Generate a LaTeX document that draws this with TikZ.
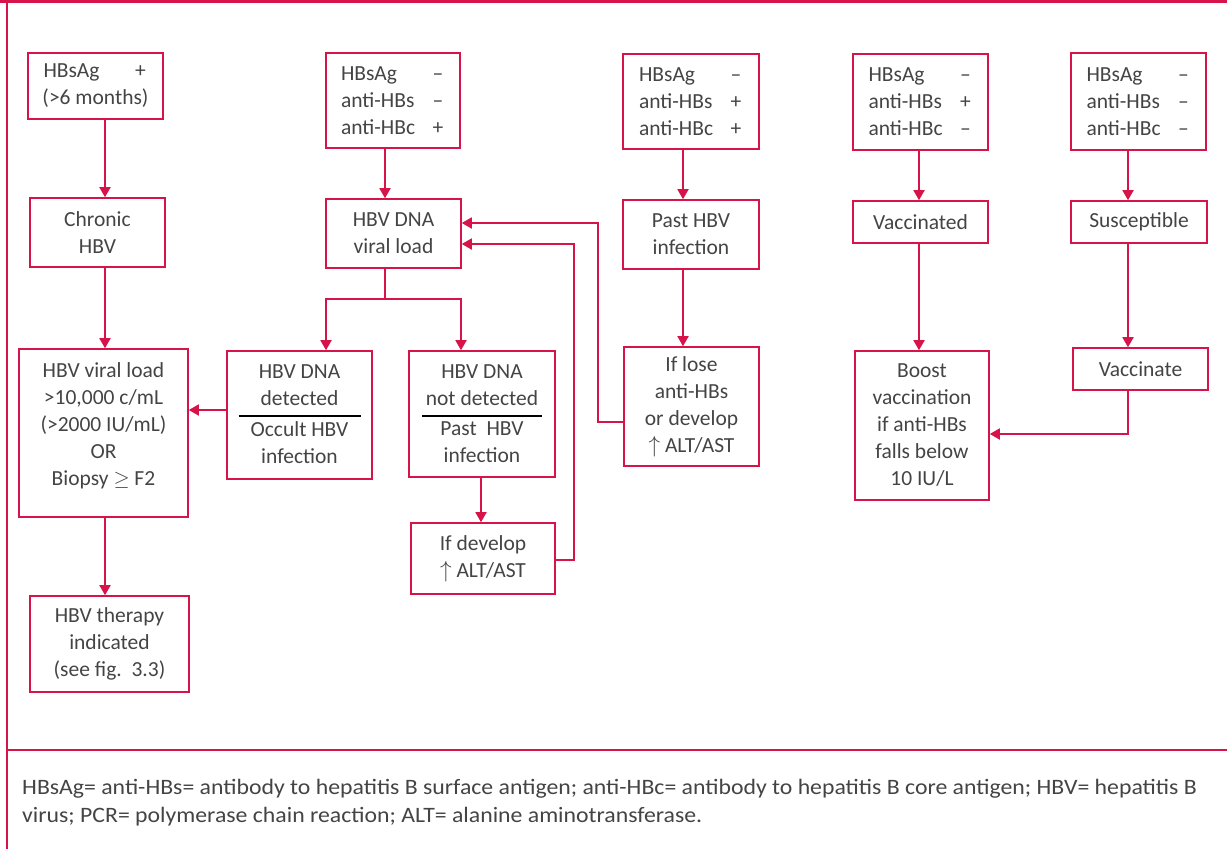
\documentclass[tikz,border=0pt]{standalone}
\usepackage{fontspec}
\setmainfont{Carlito}
\newfontfamily\footf{Carlito}[FakeStretch=1.08]
\usetikzlibrary{arrows.meta}
\definecolor{hred}{RGB}{214,20,74}
\definecolor{txtc}{RGB}{68,68,68}
\newcommand{\fsz}{\fontsize{21.5}{27}\selectfont}
\newcommand{\sg}[2]{\makebox[90pt][l]{#1}\makebox[14pt]{#2}}
\newcommand{\upar}{\scalebox{1.12}{$\uparrow$}}
\begin{document}
\begin{tikzpicture}[x=1pt,y=-1pt,
  box/.style={draw=hred,line width=1.6pt,inner sep=0pt,text=txtc,font=\fsz,align=center},
  txt/.style={inner sep=0pt,text=txtc,font=\fsz,align=center},
  conn/.style={draw=hred,line width=1.8pt},
  arr/.style={conn,-{Triangle[length=10pt,width=11pt]}}]
\useasboundingbox (0,0) rectangle (1227,849);
% frame
\draw[hred,line width=3pt] (0,1.5) -- (1227,1.5);
\draw[hred,line width=1.5pt] (7,0) -- (7,849);
\draw[hred,line width=2pt] (7,750) -- (1227,750);
% column A
\node[box,minimum width=135pt,minimum height=66pt] (A1) at (95.5,86) {\sg{HBsAg}{+}\\(>6 months)};
\node[box,minimum width=135pt,minimum height=69pt] (A2) at (97.5,232.5) {Chronic\\HBV};
\node[box,minimum width=169pt,minimum height=168pt] (A3) at (103.5,433) {};
\node[txt] (A3t) at (103.5,425.5) {HBV viral load\\>10,000 c/mL\\(>2000 IU/mL)\\OR\\Biopsy $\geq$ F2};
\node[box,minimum width=159pt,minimum height=96pt] (A4) at (109.5,644) {HBV therapy\\indicated\\(see fig.~~3.3)};
% column B
\node[box,minimum width=134pt,minimum height=95pt] (B1) at (393,100.5) {\sg{HBsAg}{–}\\\sg{anti-HBs}{–}\\\sg{anti-HBc}{+}};
\node[box,minimum width=135pt,minimum height=69pt] (B2) at (393.5,233.5) {HBV DNA\\viral load};
\node[box,minimum width=145pt,minimum height=128pt] (B3) at (299.5,415) {};
\node[txt] (B3a) at (299.5,385.5) {HBV DNA\\detected};
\node[txt] (B3b) at (299.5,442.5) {Occult HBV\\infection};
\draw[black,line width=2pt] (238.5,415.5) -- (360.5,415.5);
\node[box,minimum width=146pt,minimum height=126pt] (B4) at (482,414) {};
\node[txt] (B4a) at (482,385.5) {HBV DNA\\not detected};
\node[txt] (B4b) at (482,442.5) {Past~~HBV\\infection};
\draw[black,line width=2pt] (422,415.5) -- (542,415.5);
\node[box,minimum width=144pt,minimum height=71pt] (B5) at (483,558.5) {If develop\\\upar{} ALT/AST};
% column C
\node[box,minimum width=136pt,minimum height=95pt] (C1) at (691,101.5) {\sg{HBsAg}{–}\\\sg{anti-HBs}{+}\\\sg{anti-HBc}{+}};
\node[box,minimum width=136pt,minimum height=69pt] (C2) at (691,234.5) {Past HBV\\infection};
\node[box,minimum width=135pt,minimum height=119pt] (C3) at (691.5,406.5) {If lose\\anti-HBs\\or develop\\\upar{} ALT/AST};
% column D
\node[box,minimum width=135pt,minimum height=96pt] (D1) at (920.5,102) {\sg{HBsAg}{–}\\\sg{anti-HBs}{+}\\\sg{anti-HBc}{–}};
\node[box,minimum width=135pt,minimum height=42pt] (D2) at (920.5,222) {Vaccinated};
\node[box,minimum width=134pt,minimum height=149pt] (D3) at (922,425.5) {Boost\\vaccination\\if anti-HBs\\falls below\\10 IU/L};
% column E
\node[box,minimum width=135pt,minimum height=97pt] (E1) at (1138.5,101.5) {\sg{HBsAg}{–}\\\sg{anti-HBs}{–}\\\sg{anti-HBc}{–}};
\node[box,minimum width=136pt,minimum height=42pt] (E2) at (1139,222) {Susceptible};
\node[box,minimum width=135pt,minimum height=42pt] (E3) at (1140.5,369) {Vaccinate};
% helper coordinates
\coordinate (cA) at (105,0);
\coordinate (cB) at (385,0);
\coordinate (cC) at (683,0);
\coordinate (cD) at (919,0);
\coordinate (cE) at (1128,0);
\coordinate (Bj) at (385,299);
\coordinate (Bl) at (326,299);
\coordinate (Br) at (461,299);
\coordinate (r1) at (574,0);
\coordinate (r2) at (598,0);
\coordinate (y1) at (0,244);
\coordinate (y2) at (0,223);
\coordinate (y3) at (0,422);
\coordinate (y4) at (0,434);
\coordinate (y5) at (0,410);
\coordinate (y6) at (0,560);
\coordinate (b45) at (481,0);
% connectors
\draw[arr] (A1.south -| cA) -- (A2.north -| cA);
\draw[arr] (A2.south -| cA) -- (A3.north -| cA);
\draw[arr] (A3.south -| cA) -- (A4.north -| cA);
\draw[arr] (B3.west |- y5) -- (A3.east |- y5);
\draw[arr] (B1.south -| cB) -- (B2.north -| cB);
\draw[conn] (B2.south -| cB) -- (Bj);
\draw[arr] (Bj) -- (Bl) -- (B3.north -| Bl);
\draw[arr] (Bj) -- (Br) -- (B4.north -| Br);
\draw[arr] (B4.south -| b45) -- (B5.north -| b45);
\draw[arr] (B5.east |- y6) -| (r1 |- y1) -- (B2.east |- y1);
\draw[arr] (C3.west |- y3) -| (r2 |- y2) -- (B2.east |- y2);
\draw[arr] (C1.south -| cC) -- (C2.north -| cC);
\draw[arr] (C2.south -| cC) -- (C3.north -| cC);
\draw[arr] (D1.south -| cD) -- (D2.north -| cD);
\draw[arr] (D2.south -| cD) -- (D3.north -| cD);
\draw[arr] (E1.south -| cE) -- (E2.north -| cE);
\draw[arr] (E2.south -| cE) -- (E3.north -| cE);
\draw[arr] (E3.south -| cE) |- (D3.east |- y4);
% footer
\node[inner sep=0pt,text=txtc,font=\footf\fontsize{22}{28}\selectfont,align=left,anchor=west] (foot) at (22,803) {HBsAg= anti-HBs= antibody to hepatitis B surface antigen; anti-HBc= antibody to hepatitis B core antigen; HBV= hepatitis B\\virus; PCR= polymerase chain reaction; ALT= alanine aminotransferase.};
\end{tikzpicture}
\end{document}
